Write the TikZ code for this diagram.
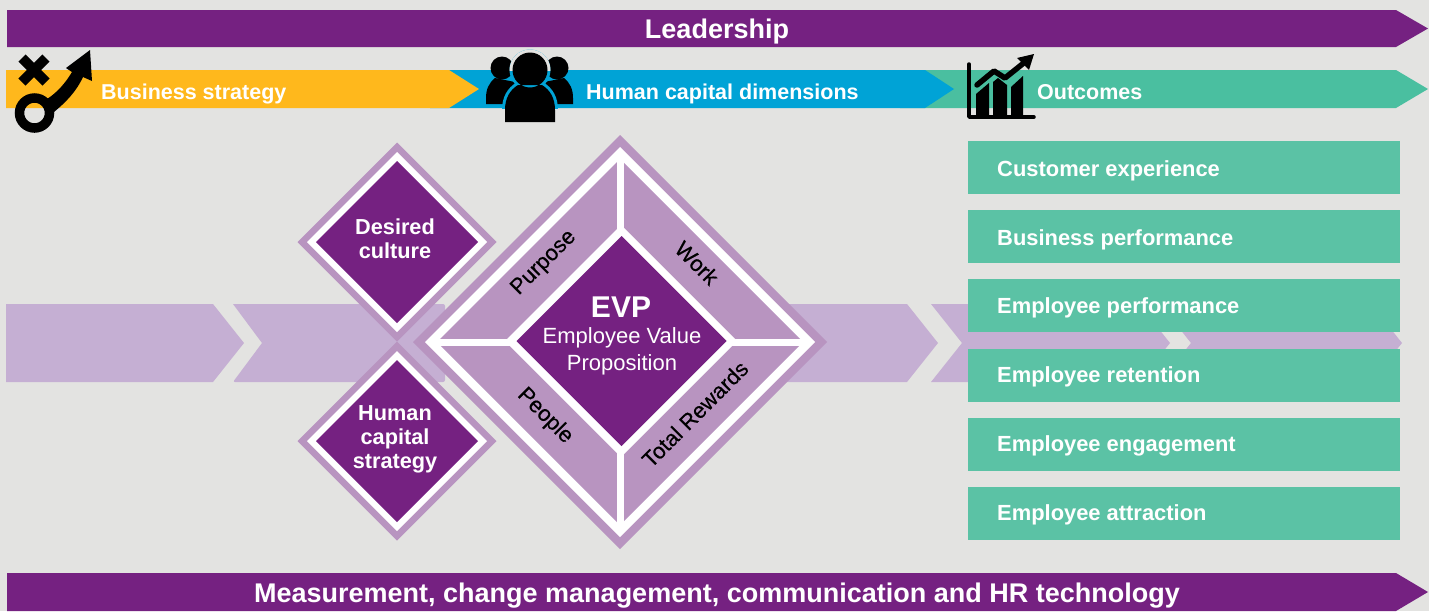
\documentclass[tikz,border=0pt]{standalone}
\usepackage{fontspec}
\setmainfont{Liberation Sans}
\newfontfamily\medfont[FakeBold=0.4]{Liberation Sans}
\definecolor{bgcol}{HTML}{E3E3E1}
\definecolor{evppurple}{HTML}{752181}
\definecolor{bandpurple}{HTML}{B894C0}
\definecolor{lightpurple}{HTML}{C5AFD3}
\definecolor{stratyellow}{HTML}{FFB81C}
\definecolor{dimblue}{HTML}{00A3D6}
\definecolor{outgreen}{HTML}{4ABFA0}
\definecolor{boxgreen}{HTML}{5BC2A5}
\tikzset{
  whitebold/.style={text=white, font=\bfseries\fontsize{#1}{#1}\selectfont, inner sep=0pt},
  blacklabel/.style={text=black, font=\medfont\fontsize{22}{22}\selectfont, inner sep=0pt},
  diamondtext/.style={text=white, font=\bfseries\fontsize{21.7}{24}\selectfont, align=center, inner sep=0pt},
}
\newcommand{\rhomb}[4]{\fill[#4] (#1,#2-#3) -- (#1+#3,#2) -- (#1,#2+#3) -- (#1-#3,#2) -- cycle;}
\newcommand{\personcentre}{(512.5,70) arc[start angle=180, end angle=-180, radius=17.5] (505,122) -- (505,110) .. controls (505,98) and (510,90) .. (518,85) -- (542,85) .. controls (550,90) and (555,98) .. (555,110) -- (555,122) -- cycle}
\begin{document}
\begin{tikzpicture}[x=1pt,y=-1pt]
\useasboundingbox (0,0) rectangle (1429,611);
\fill[bgcol] (0,0) rectangle (1429,611);
% top and bottom banners
\fill[evppurple] (7,10) -- (1396,10) -- (1428,28.5) -- (1396,47) -- (7,47) -- cycle;
\fill[evppurple] (7,573) -- (1396,573) -- (1428,592) -- (1396,611) -- (7,611) -- cycle;
\node[whitebold=27, anchor=base] (leadership) at (717,38) {Leadership};
\node[whitebold=27, anchor=base] (measurement) at (717,602) {Measurement, change management, communication and HR technology};
% second row
\fill[outgreen] (900,70) -- (1396,70) -- (1428,89) -- (1396,108) -- (900,108) -- cycle;
\fill[dimblue] (430,70) -- (925,70) -- (954,89) -- (925,108) -- (430,108) -- cycle;
\fill[stratyellow] (6,70) -- (449,70) -- (479,89) -- (449,108) -- (6,108) -- cycle;
\node[whitebold=21.5, anchor=base west] (strategy) at (101,99) {Business strategy};
\node[whitebold=21.5, anchor=base west] (dimensions) at (586,99) {Human capital dimensions};
\node[whitebold=21.5, anchor=base west] (outcomes) at (1037,99) {Outcomes};
% chevrons behind the diamonds
\fill[lightpurple] (6,304) -- (213,304) -- (244,343) -- (213,382) -- (6,382) -- cycle;
\fill[lightpurple, rounded corners=2pt] (233,304) -- (445,304) -- (445,382) -- (233,382) [sharp corners] -- (262,343) -- cycle;
\foreach \a/\b in {700/907,931/1139,1160/1371}
  \fill[lightpurple] (\a,304) -- (\b,304) -- (\b+31,343) -- (\b,382) -- (\a,382) -- (\a+31,343) -- cycle;
% outcome boxes
\foreach \y/\base/\name/\txt in {141/176/custexp/Customer experience,210/245/busperf/Business performance,279/313/empperf/Employee performance,349/382/empret/Employee retention,418/451/empeng/Employee engagement,487/520/empatt/Employee attraction}{
  \fill[boxgreen] (968,\y) rectangle (1400,\y+53);
  \node[whitebold=21.9, anchor=base west] (\name) at (997,\base) {\txt};
}
% small diamonds
\foreach \cy in {242,441}{
  \rhomb{397}{\cy}{99.5}{bandpurple}
  \rhomb{397}{\cy}{90}{white}
  \rhomb{397}{\cy}{81}{evppurple}
}
\node[diamondtext] (culture) at (395,239) {Desired\\culture};
\node[diamondtext] (hcstrategy) at (395,439) {Human\\capital\\strategy};
% big diamond
\rhomb{620}{342}{207}{bandpurple}
\rhomb{620}{342}{195}{white}
\rhomb{620}{342}{183}{bandpurple}
\fill[white] (616.5,155) rectangle (623.5,529);
\fill[white] (433,338.5) rectangle (807,345.5);
\rhomb{621}{341}{116}{white}
\rhomb{621.5}{341}{105}{evppurple}
\node[blacklabel, rotate=45] (purpose) at (544,263) {Purpose};
\node[blacklabel, rotate=-45] (work) at (697,263) {Work};
\node[blacklabel, rotate=-45] (people) at (545,416) {People};
\node[blacklabel, rotate=45] (rewards) at (695,414) {Total Rewards};
\node[whitebold=30] (evp) at (621,307) {EVP};
\node[text=white, font=\fontsize{22}{27}\selectfont, align=center, inner sep=0pt] (evptext) at (622,351) {Employee Value\\Proposition};
% key icon
\draw[black, line width=9.5pt] (34.5,113) circle[radius=15];
\draw[black, line width=10pt] (22,58) -- (46,82) (46,58) -- (22,82);
\fill[black] (47,99) .. controls (58,92) and (66,82) .. (72,72) -- (66,68) -- (90,50) -- (92,81) -- (83,77) .. controls (76,92) and (66,102) .. (54,112) -- cycle;
% people icon
\fill[black] (502,68) circle[radius=11.5];
\fill[black] (557,68) circle[radius=11.5];
\fill[black] (486,104) -- (486,98) .. controls (486,89) and (489,83) .. (495,78) -- (530,85) -- (530,104) -- cycle;
\fill[black] (573,104) -- (573,98) .. controls (573,89) and (570,83) .. (564,78) -- (530,85) -- (530,104) -- cycle;
\draw[dimblue, fill=dimblue, line width=6pt, line join=round] \personcentre;
\begin{scope}
  \clip (480,40) rectangle (580,70);
  \draw[bgcol, fill=bgcol, line width=6pt] (530,70) circle[radius=17.5];
\end{scope}
\fill[bgcol] (500,108.5) rectangle (560,126);
\fill[black] \personcentre;
% chart icon
\draw[black, line width=3.5pt, line cap=round, line join=round] (969,64) -- (969,117) -- (1034,117);
\fill[black] (976,115) -- (976,94) -- (989,83) -- (989,115) -- cycle;
\fill[black] (993,115) -- (993,82) -- (998,78) -- (1007,85) -- (1007,115) -- cycle;
\fill[black] (1011,115) -- (1011,87) -- (1023,76) -- (1023,115) -- cycle;
\draw[black, line width=5.5pt, line cap=round, line join=round] (977,85) -- (994,71) -- (1005,78) -- (1025,62);
\fill[black] (1017,58) -- (1034,54) -- (1029,70) -- cycle;
\end{tikzpicture}
\end{document}
